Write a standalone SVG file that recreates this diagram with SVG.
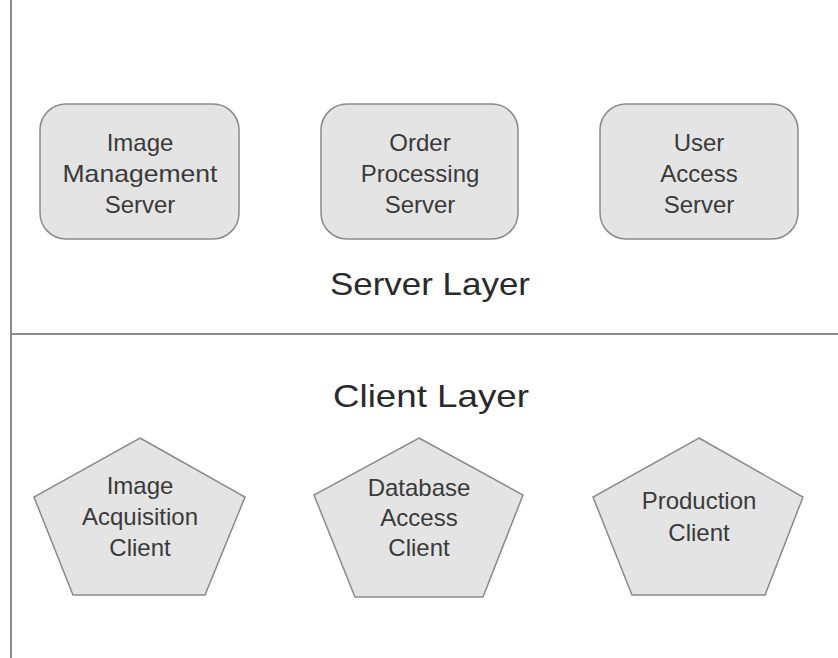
<svg xmlns="http://www.w3.org/2000/svg" width="838" height="658" viewBox="0 0 838 658">
<style>
.box{fill:#e4e4e4;stroke:#8a8a8a;stroke-width:1.5}
.t{font-family:"Liberation Sans",Arial,sans-serif;font-size:24px;fill:#3a3a3a;text-anchor:middle}
.layer{font-family:"Liberation Sans",Arial,sans-serif;font-size:32px;fill:#2a2a2a;text-anchor:middle}
.rule{stroke:#8c8c8c;stroke-width:2;fill:none}
</style>
<rect width="838" height="658" fill="#ffffff"/>
<g id="frame">
<line class="rule" x1="11" y1="0" x2="11" y2="658"/>
<line class="rule" x1="12" y1="334" x2="838" y2="334" stroke="#7a7a7a"/>
</g>
<g id="server-layer-label"><text class="layer" x="430" y="295" textLength="200" lengthAdjust="spacingAndGlyphs">Server Layer</text></g>
<g id="client-layer-label"><text class="layer" x="431" y="407" textLength="196" lengthAdjust="spacingAndGlyphs">Client Layer</text></g>
<g id="image-management-server">
<rect class="box" x="40" y="104" width="199" height="135" rx="26"/>
<text class="t" x="140" y="151">Image</text>
<text class="t" x="140" y="182" textLength="155" lengthAdjust="spacingAndGlyphs">Management</text>
<text class="t" x="140" y="213">Server</text>
</g>
<g id="order-processing-server">
<rect class="box" x="321" y="104" width="197" height="135" rx="26"/>
<text class="t" x="420" y="151">Order</text>
<text class="t" x="420" y="182">Processing</text>
<text class="t" x="420" y="213">Server</text>
</g>
<g id="user-access-server">
<rect class="box" x="600" y="104" width="198" height="135" rx="26"/>
<text class="t" x="699" y="151">User</text>
<text class="t" x="699" y="182">Access</text>
<text class="t" x="699" y="213">Server</text>
</g>
<g id="image-acquisition-client">
<polygon class="box" points="140,438 245,497 205,595 73,595 34,497"/>
<text class="t" x="140" y="494">Image</text>
<text class="t" x="140" y="525">Acquisition</text>
<text class="t" x="140" y="556">Client</text>
</g>
<g id="database-access-client">
<polygon class="box" points="419,438 523,495 483,597 355,597 314,495"/>
<text class="t" x="419" y="496">Database</text>
<text class="t" x="419" y="526">Access</text>
<text class="t" x="419" y="556">Client</text>
</g>
<g id="production-client">
<polygon class="box" points="699,438 803,497 765,595 632,595 593,497"/>
<text class="t" x="699" y="509">Production</text>
<text class="t" x="699" y="541">Client</text>
</g>
<g id="connectors"></g>
</svg>
